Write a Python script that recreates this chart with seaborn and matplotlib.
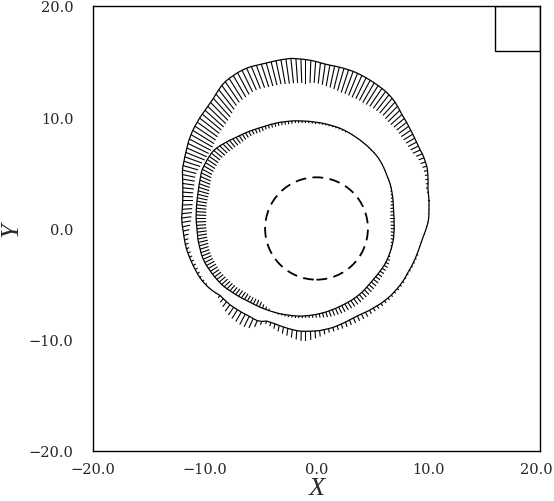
import numpy as np
import pandas as pd
import matplotlib
matplotlib.use("Agg")
import matplotlib.pyplot as plt
from matplotlib.patches import Circle, Rectangle
from matplotlib.ticker import MultipleLocator, FuncFormatter
from matplotlib.transforms import offset_copy
import seaborn as sns

# sampling angles (deg) of both fronts, measured around each front's centre
angles = np.arange(0, 360, 2)

# outer front: radius of the drawn curve and signed vector length (+ = outward)
outer_center = (-0.95, 2.5)
outer_r = [11.02, 10.99, 10.98, 10.98, 11.04, 11.10, 11.16, 11.22, 11.25, 11.25,
           11.25, 11.24, 11.20, 11.20, 11.21, 11.25, 11.28, 11.32, 11.38, 11.44,
           11.50, 11.56, 11.68, 11.80, 11.92, 12.01, 12.08, 12.14, 12.17, 12.20,
           12.23, 12.26, 12.29, 12.32, 12.35, 12.37, 12.37, 12.37, 12.37, 12.37,
           12.37, 12.40, 12.46, 12.55, 12.62, 12.68, 12.74, 12.80, 12.86, 12.86,
           12.86, 12.86, 12.86, 12.87, 12.90, 12.96, 13.01, 13.04, 13.04, 13.03,
           12.99, 12.96, 12.90, 12.81, 12.66, 12.52, 12.37, 12.28, 12.20, 12.14,
           12.11, 12.07, 12.01, 11.98, 11.93, 11.87, 11.81, 11.74, 11.65, 11.59,
           11.53, 11.47, 11.44, 11.38, 11.29, 11.20, 11.13, 11.07, 11.04, 11.02,
           11.02, 11.05, 11.10, 11.16, 11.22, 11.26, 11.29, 11.32, 11.37, 11.42,
           11.48, 11.53, 11.56, 11.59, 11.62, 11.65, 11.68, 11.71, 11.74, 11.74,
           11.72, 11.69, 11.63, 11.56, 11.47, 11.50, 11.53, 11.56, 11.56, 11.56,
           11.56, 11.56, 11.56, 11.60, 11.63, 11.55, 11.38, 11.38, 11.41, 11.47,
           11.53, 11.59, 11.65, 11.71, 11.74, 11.74, 11.74, 11.74, 11.74, 11.71,
           11.68, 11.65, 11.59, 11.53, 11.47, 11.41, 11.37, 11.34, 11.34, 11.35,
           11.38, 11.38, 11.39, 11.42, 11.42, 11.42, 11.42, 11.39, 11.37, 11.34,
           11.31, 11.26, 11.20, 11.17, 11.14, 11.11, 11.08, 11.05, 11.02, 10.99,
           10.98, 10.98, 11.01, 11.04, 11.07, 11.10, 11.10, 11.07, 11.04, 11.02]
outer_dr = [-0.09, -0.09, -0.12, -0.18, -0.18, -0.24, -0.27, -0.33, -0.39, -0.45,
            -0.51, -0.60, -0.72, -0.78, -0.84, -0.90, -0.96, -1.02, -1.08, -1.13,
            -1.22, -1.34, -1.46, -1.55, -1.61, -1.73, -1.82, -1.88, -1.94, -2.00,
            -2.06, -2.06, -2.09, -2.15, -2.15, -2.15, -2.15, -2.09, -2.03, -1.97,
            -1.91, -1.88, -1.88, -1.94, -2.03, -2.15, -2.15, -2.18, -2.24, -2.24,
            -2.21, -2.15, -2.15, -2.15, -2.15, -2.15, -2.15, -2.15, -2.15, -2.21,
            -2.24, -2.24, -2.24, -2.24, -2.24, -2.24, -2.24, -2.24, -2.24, -2.24,
            -2.24, -2.24, -2.24, -2.24, -2.24, -2.24, -2.18, -2.06, -1.94, -1.82,
            -1.64, -1.52, -1.40, -1.28, -1.16, -1.10, -1.05, -0.99, -0.93, -0.90,
            -0.90, -0.90, -0.90, -0.90, -0.87, -0.81, -0.69, -0.57, -0.45, -0.36,
            -0.30, -0.27, -0.27, -0.27, -0.27, -0.27, -0.27, -0.24, -0.18, -0.18,
            -0.15, -0.09, -0.09, -0.05, 0.27, 0.42, 0.57, 0.72, 0.84, 0.93,
            0.99, 1.05, 1.05, 0.93, 0.60, 0.33, 0.27, 0.35, 0.45, 0.54,
            0.60, 0.66, 0.72, 0.80, 0.87, 0.90, 0.78, 0.66, 0.54, 0.42,
            0.36, 0.36, 0.39, 0.42, 0.45, 0.48, 0.49, 0.49, 0.48, 0.45,
            0.36, 0.33, 0.31, 0.28, 0.25, 0.22, 0.19, 0.18, 0.18, 0.18,
            0.15, 0.13, 0.13, 0.13, 0.13, 0.13, 0.13, 0.13, 0.09, 0.09,
            0.09, 0.09, 0.09, 0.09, 0.09, 0.09, 0.09, 0.09, 0.09, 0.09]

# inner front
inner_center = (-1.9, 0.9)
inner_r = [8.83, 8.83, 8.83, 8.84, 8.86, 8.89, 8.92, 8.95, 8.98, 9.01,
           9.04, 9.05, 9.06, 9.08, 9.11, 9.14, 9.17, 9.19, 9.21, 9.21,
           9.20, 9.18, 9.17, 9.16, 9.14, 9.13, 9.11, 9.10, 9.09, 9.08,
           9.07, 9.06, 9.04, 9.01, 8.98, 8.95, 8.93, 8.90, 8.88, 8.85,
           8.84, 8.82, 8.80, 8.79, 8.78, 8.78, 8.77, 8.76, 8.75, 8.75,
           8.75, 8.74, 8.74, 8.73, 8.73, 8.74, 8.76, 8.78, 8.82, 8.86,
           8.89, 8.92, 8.96, 9.01, 9.08, 9.16, 9.23, 9.31, 9.39, 9.46,
           9.52, 9.53, 9.51, 9.49, 9.46, 9.44, 9.42, 9.36, 9.27, 9.20,
           9.14, 9.08, 9.03, 8.99, 8.96, 8.93, 8.91, 8.90, 8.88, 8.87,
           8.87, 8.86, 8.85, 8.86, 8.86, 8.88, 8.91, 8.92, 8.93, 8.96,
           8.98, 9.00, 9.01, 9.01, 9.00, 8.97, 8.95, 8.94, 8.92, 8.90,
           8.88, 8.86, 8.83, 8.79, 8.74, 8.71, 8.67, 8.64, 8.61, 8.58,
           8.56, 8.56, 8.56, 8.56, 8.57, 8.58, 8.59, 8.61, 8.62, 8.64,
           8.66, 8.67, 8.69, 8.71, 8.73, 8.75, 8.78, 8.79, 8.80, 8.81,
           8.81, 8.82, 8.83, 8.83, 8.84, 8.84, 8.84, 8.85, 8.85, 8.86,
           8.87, 8.88, 8.90, 8.91, 8.92, 8.92, 8.92, 8.91, 8.89, 8.88,
           8.87, 8.88, 8.90, 8.92, 8.94, 8.97, 9.00, 9.01, 9.02, 9.01,
           9.01, 9.01, 9.00, 8.99, 8.98, 8.95, 8.92, 8.90, 8.87, 8.85]
inner_dr = [-0.31, -0.31, -0.30, -0.27, -0.24, -0.21, -0.18, -0.15, -0.12, -0.09,
            -0.08, -0.07, -0.07, -0.07, -0.07, -0.07, -0.07, -0.07, -0.07, -0.08,
            -0.09, -0.09, -0.09, -0.09, -0.09, -0.09, -0.09, -0.09, -0.09, -0.09,
            -0.13, -0.13, -0.13, -0.13, -0.13, -0.13, -0.13, -0.13, -0.15, -0.18,
            -0.18, -0.18, -0.18, -0.18, -0.20, -0.22, -0.25, -0.27, -0.27, -0.27,
            -0.29, -0.31, -0.31, -0.31, -0.31, -0.36, -0.40, -0.40, -0.40, -0.45,
            -0.49, -0.55, -0.61, -0.67, -0.73, -0.79, -0.85, -0.88, -0.93, -0.99,
            -0.99, -0.99, -0.99, -0.99, -0.99, -0.99, -0.99, -0.99, -0.99, -0.99,
            -0.99, -0.99, -0.99, -0.96, -0.93, -0.90, -0.90, -0.90, -0.90, -0.90,
            -0.90, -0.88, -0.85, -0.85, -0.85, -0.85, -0.85, -0.85, -0.83, -0.81,
            -0.81, -0.81, -0.81, -0.81, -0.81, -0.78, -0.75, -0.72, -0.72, -0.72,
            -0.72, -0.72, -0.72, -0.69, -0.66, -0.63, -0.63, -0.63, -0.63, -0.60,
            -0.54, -0.54, -0.54, -0.54, -0.48, -0.36, -0.27, -0.18, -0.09, 0.09,
            0.11, 0.13, 0.16, 0.18, 0.18, 0.18, 0.18, 0.18, 0.18, 0.22,
            0.25, 0.30, 0.36, 0.42, 0.48, 0.54, 0.57, 0.60, 0.63, 0.63,
            0.63, 0.63, 0.63, 0.63, 0.61, 0.58, 0.58, 0.58, 0.58, 0.58,
            0.56, 0.54, 0.48, 0.45, 0.42, 0.38, 0.36, 0.30, 0.24, 0.15,
            0.06, -0.09, -0.12, -0.18, -0.24, -0.27, -0.30, -0.31, -0.31, -0.31]

# initial (dashed) circle and the empty reference-vector box
circle_center = (0.0, 0.0)
circle_radius = 4.6
box_corner = (16.0, 16.0)
box_size = 4.0

sns.set_style("white")
plt.rcParams["font.family"] = ["DejaVu Serif"]

fig = plt.figure(figsize=(5.54, 5.02), dpi=100)
ax = fig.add_axes([93 / 554, 1 - 452 / 502, 447 / 554, 445 / 502])


def draw_front(center, r, dr):
    t = np.deg2rad(angles)
    r = np.asarray(r)
    dr = np.asarray(dr)
    df = pd.DataFrame({"x": center[0] + r * np.cos(t),
                       "y": center[1] + r * np.sin(t)})
    closed = pd.concat([df, df.iloc[:1]], ignore_index=True)
    sns.lineplot(data=closed, x="x", y="y", sort=False, estimator=None,
                 color="black", lw=0.9, ax=ax)
    ax.quiver(df["x"], df["y"], dr * np.cos(t), dr * np.sin(t),
              angles="xy", scale_units="xy", scale=1, pivot="tail",
              headwidth=0, headlength=0, headaxislength=0,
              units="dots", width=1.1, color="black")


draw_front(outer_center, outer_r, outer_dr)
draw_front(inner_center, inner_r, inner_dr)

ax.add_patch(Circle(circle_center, circle_radius, fill=False, color="black",
                    lw=1.3, ls=(0, (6, 3.5))))
ax.add_patch(Rectangle(box_corner, box_size, box_size, fill=False,
                       color="black", lw=1.0))

ax.set_xlim(-20, 20)
ax.set_ylim(-20, 20)
fmt = FuncFormatter(lambda v, _: f"{v:.1f}".replace("-", "\u2212"))
for axis in (ax.xaxis, ax.yaxis):
    axis.set_major_locator(MultipleLocator(10))
    axis.set_minor_locator(MultipleLocator(1))
    axis.set_major_formatter(fmt)
ax.tick_params(which="both", direction="out", top=False, right=False,
               labelsize=10.5, color="black", width=0.8)
ax.tick_params(which="major", length=6)
ax.tick_params(which="minor", length=4)
ax.tick_params(axis="y", pad=8)
ax.tick_params(axis="x", pad=2)
for s in ax.spines.values():
    s.set_color("black")
    s.set_linewidth(1.0)

ax.set_xlabel("X", fontsize=19, fontstyle="italic", family="Liberation Serif",
              va="center", ha="center")
ax.set_ylabel("Y", fontsize=19, fontstyle="italic", family="Liberation Serif",
              va="center", ha="center")
ax.xaxis.set_label_coords(0.5, -0.083)
ax.yaxis.set_label_coords(-0.182, 0.5)

# keep the "20.0" x tick label inside the figure
fig.canvas.draw()
for tick in ax.xaxis.get_major_ticks():
    if np.isclose(tick.get_loc(), 20):
        lbl = tick.label1
        lbl.set_transform(offset_copy(lbl.get_transform(), fig=fig, x=-4, units="dots"))

fig.savefig("out.png", dpi=100)
